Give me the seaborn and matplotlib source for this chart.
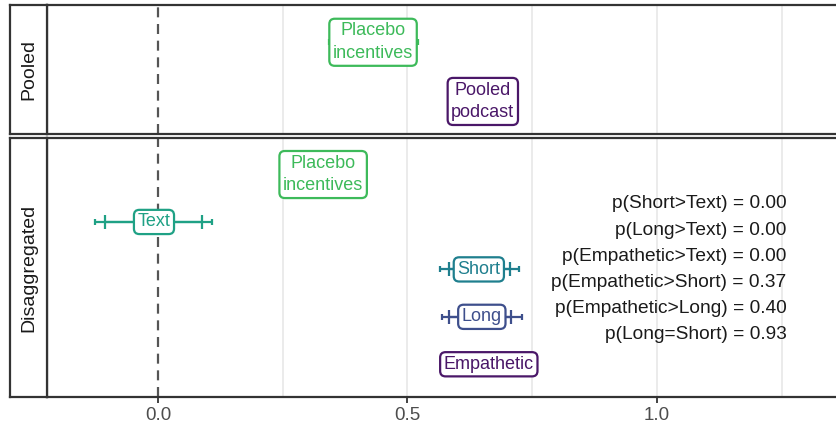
import matplotlib
matplotlib.use("Agg")
import matplotlib.pyplot as plt
import numpy as np
import pandas as pd
import seaborn as sns

# ---- data -------------------------------------------------------------
pooled_labels = ["Placebo\nincentives", "Pooled\npodcast"]
pooled_est = [0.431, 0.651]
pooled_lo95 = [0.343, 0.600]
pooled_hi95 = [0.521, 0.702]
pooled_lo89 = [0.360, 0.615]
pooled_hi89 = [0.504, 0.688]
pooled_colors = ["#3dba5a", "#4a1768"]

dis_labels = ["Placebo\nincentives", "Text", "Short", "Long", "Empathetic"]
dis_est = [0.331, -0.008, 0.643, 0.649, 0.663]
dis_lo95 = [0.260, -0.126, 0.565, 0.569, 0.600]
dis_hi95 = [0.400, 0.108, 0.723, 0.729, 0.725]
dis_lo89 = [0.275, -0.106, 0.583, 0.583, 0.612]
dis_hi89 = [0.387, 0.088, 0.705, 0.707, 0.713]
dis_colors = ["#3dba5a", "#1fa185", "#1f7f8e", "#3e4f8c", "#4a1768"]

contrast_lines = [
    "p(Short>Text) = 0.00",
    "p(Long>Text) = 0.00",
    "p(Empathetic>Text) = 0.00",
    "p(Empathetic>Short) = 0.37",
    "p(Empathetic>Long) = 0.40",
    "p(Long=Short) = 0.93",
]

x_ticks = [0.0, 0.5, 1.0]
x_tick_labels = ["0.0", "0.5", "1.0"]
x_grid = [0.25, 0.5, 0.75, 1.0, 1.25]

# ---- style ------------------------------------------------------------
sns.set_theme(style="white")
plt.rcParams["font.family"] = ["Liberation Sans", "DejaVu Sans"]

W, H = 837, 428
fig = plt.figure(figsize=(W / 100, H / 100), dpi=100)

def fx(px):
    return px / W

def fy(py):
    return 1 - py / H

dark = "#333333"
xlim = (-0.2224, 1.3768)

panel_left, panel_right = 47, 845
strip_left = 10

panels = [
    dict(top=5, bottom=134, strip="Pooled",
         df=pd.DataFrame(dict(label=pooled_labels, est=pooled_est,
                              lo95=pooled_lo95, hi95=pooled_hi95,
                              lo89=pooled_lo89, hi89=pooled_hi89,
                              color=pooled_colors)),
         ylim=(-0.63, 1.55)),
    dict(top=138, bottom=397, strip="Disaggregated",
         df=pd.DataFrame(dict(label=dis_labels, est=dis_est,
                              lo95=dis_lo95, hi95=dis_hi95,
                              lo89=dis_lo89, hi89=dis_hi89,
                              color=dis_colors)),
         ylim=(-0.77, 4.69)),
]

axes = []
for p in panels:
    ax = fig.add_axes([fx(panel_left), fy(p["bottom"]),
                       fx(panel_right - panel_left), (p["bottom"] - p["top"]) / H])
    sax = fig.add_axes([fx(strip_left), fy(p["bottom"]),
                        fx(panel_left - strip_left), (p["bottom"] - p["top"]) / H])
    axes.append(ax)

    df = p["df"].copy()
    df["pos"] = np.arange(len(df))

    ax.set_xlim(*xlim)
    ax.set_ylim(p["ylim"][1], p["ylim"][0])  # first category on top

    for g in x_grid:
        ax.axvline(g, color="#e6e6e6", lw=1.1, zorder=0)
    ax.axvline(0, color="#555555", lw=1.6, ls=(0, (4.5, 3)), zorder=1)

    # point estimates
    sns.scatterplot(data=df, x="est", y="pos", hue="label",
                    palette=dict(zip(df["label"], df["color"])),
                    s=10, legend=False, ax=ax, zorder=2)

    for _, r in df.iterrows():
        ax.errorbar(r["est"], r["pos"],
                    xerr=[[r["est"] - r["lo95"]], [r["hi95"] - r["est"]]],
                    fmt="none", ecolor=r["color"], elinewidth=1.6,
                    capsize=2.5, capthick=1.6, zorder=2)
        ax.errorbar(r["est"], r["pos"],
                    xerr=[[r["est"] - r["lo89"]], [r["hi89"] - r["est"]]],
                    fmt="none", ecolor=r["color"], elinewidth=1.6,
                    capsize=5, capthick=1.6, zorder=2)
        ax.text(r["est"], r["pos"], r["label"], color=r["color"],
                ha="center", va="center", fontsize=13, linespacing=1.45,
                zorder=5,
                bbox=dict(boxstyle="round,pad=0.2,rounding_size=0.3",
                          fc="white", ec=r["color"], lw=1.6))

    ax.set_xlabel("")
    ax.set_ylabel("")
    ax.set_yticks([])
    for side in ["top", "bottom", "left", "right"]:
        ax.spines[side].set_color(dark)
        ax.spines[side].set_linewidth(1.6)

    # strip
    sax.set_xticks([])
    sax.set_yticks([])
    sax.set_facecolor("white")
    for side in ["top", "bottom", "left", "right"]:
        sax.spines[side].set_color(dark)
        sax.spines[side].set_linewidth(1.6)
    sax.text(0.5, 0.5, p["strip"], rotation=90, ha="center", va="center",
             fontsize=14, color="#1a1a1a", transform=sax.transAxes)

# contrasts in the lower panel
axes[1].text(1.26, 2, "\n".join(contrast_lines), ha="right", va="center",
             fontsize=13.8, color="#1a1a1a", linespacing=1.71, zorder=6)

axes[0].set_xticks([])
axes[1].set_xticks(x_ticks)
axes[1].set_xticklabels(x_tick_labels)
axes[1].tick_params(axis="x", bottom=True, length=4, width=1.3, color=dark,
                    labelsize=13.5, labelcolor="#4d4d4d", pad=3)

fig.savefig("out.png", dpi=100)
